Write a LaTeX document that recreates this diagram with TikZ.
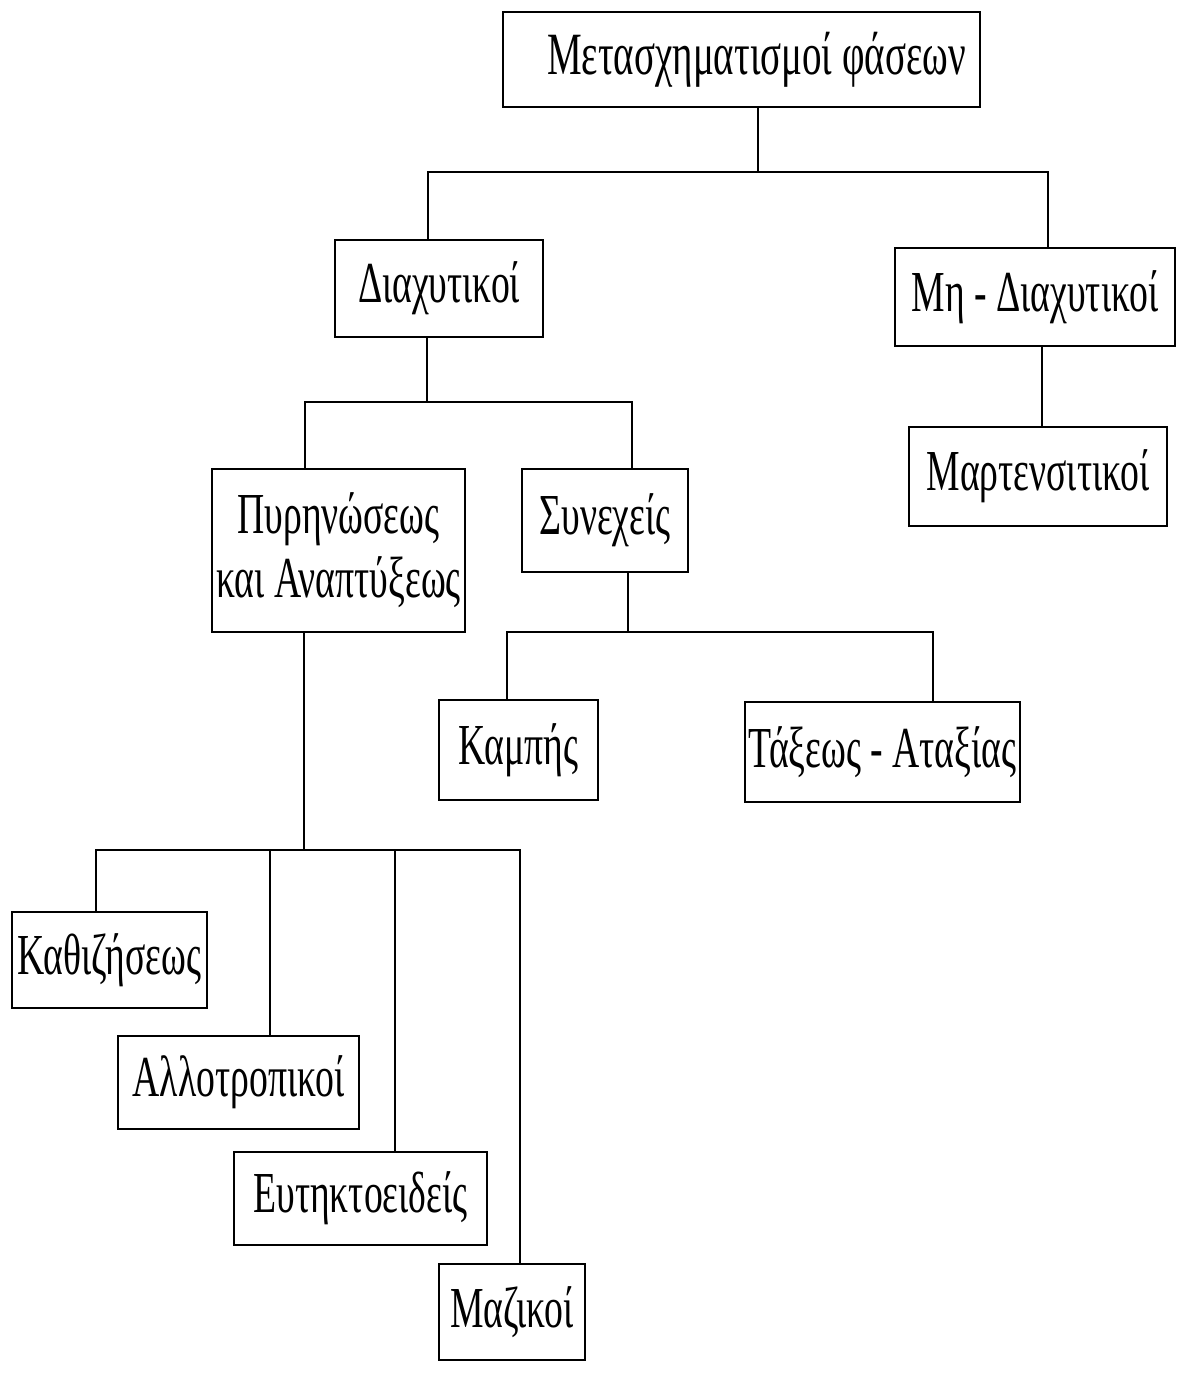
\documentclass[tikz,border=0pt]{standalone}
\usepackage{fontspec}
\setmainfont{Liberation Serif}[FakeStretch=0.65]
\begin{document}
\begin{tikzpicture}[x=1pt,y=-1pt,
  box/.style={draw,line width=2.8pt,inner sep=0pt,align=center,font=\fontsize{58}{64}\selectfont},
  link/.style={line width=2pt}]
\useasboundingbox[fill=white] (0,0) rectangle (1177,1387);
% boxes
\node[box,minimum width=477pt,minimum height=95pt,font=\fontsize{60}{66}\selectfont] (top) at (741.5,59.5) {\hspace*{30pt}Μετασχηματισμοί φάσεων};
\node[box,minimum width=208pt,minimum height=97pt] (diax) at (439,288.5) {Διαχυτικοί};
\node[box,minimum width=280pt,minimum height=98pt] (mdiax) at (1035,297) {Μη - Διαχυτικοί};
\node[box,minimum width=258pt,minimum height=99pt] (mart) at (1038,476.5) {Μαρτενσιτικοί};
\node[box,minimum width=253pt,minimum height=163pt] (pyr) at (338.5,550.5) {Πυρηνώσεως\\και Αναπτύξεως};
\node[box,minimum width=166pt,minimum height=103pt] (syn) at (605,520.5) {Συνεχείς};
\node[box,minimum width=159pt,minimum height=100pt] (kamp) at (518.5,750) {Καμπής};
\node[box,minimum width=275pt,minimum height=100pt] (tax) at (882.5,752) {Τάξεως - Αταξίας};
\node[box,minimum width=195pt,minimum height=96pt] (kath) at (109.5,960) {Καθιζήσεως};
\node[box,minimum width=241pt,minimum height=93pt] (allo) at (238.5,1082.5) {Αλλοτροπικοί};
\node[box,minimum width=253pt,minimum height=93pt] (eut) at (360.5,1198.5) {Ευτηκτοειδείς};
\node[box,minimum width=146pt,minimum height=96pt] (maz) at (512,1312) {Μαζικοί};
% junction coordinates
\coordinate (j0) at (758,172); \coordinate (j0l) at (428,172); \coordinate (j0r) at (1048,172);
\coordinate (j1) at (427,402); \coordinate (j1l) at (305,402); \coordinate (j1r) at (632,402);
\coordinate (j2) at (1042,400);
\coordinate (j3) at (628,632); \coordinate (j3l) at (507,632); \coordinate (j3r) at (933,632);
\coordinate (j4) at (304,850); \coordinate (j4a) at (96,850); \coordinate (j4b) at (270,850);
\coordinate (j4c) at (395,850); \coordinate (j4d) at (520,850);
% connectors
\draw[link] (top.south -| j0) -- (j0);
\draw[link] (diax.north -| j0l) -- (j0l) -- (j0r) -- (mdiax.north -| j0r);
\draw[link] (diax.south -| j1) -- (j1);
\draw[link] (pyr.north -| j1l) -- (j1l) -- (j1r) -- (syn.north -| j1r);
\draw[link] (mdiax.south -| j2) -- (mart.north -| j2);
\draw[link] (syn.south -| j3) -- (j3);
\draw[link] (kamp.north -| j3l) -- (j3l) -- (j3r) -- (tax.north -| j3r);
\draw[link] (pyr.south -| j4) -- (j4);
\draw[link] (kath.north -| j4a) -- (j4a) -- (j4d) -- (maz.north -| j4d);
\draw[link] (j4b) -- (allo.north -| j4b);
\draw[link] (j4c) -- (eut.north -| j4c);
\end{tikzpicture}
\end{document}
